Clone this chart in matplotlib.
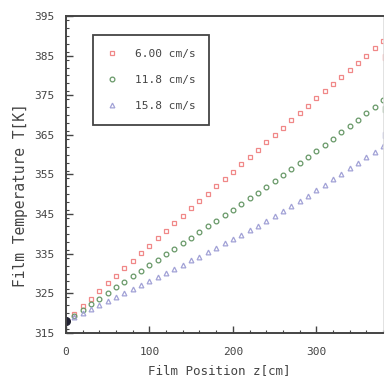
import matplotlib
matplotlib.use("Agg")
import matplotlib.pyplot as plt
from matplotlib.ticker import MultipleLocator

plt.rcParams['font.family'] = ['DejaVu Sans Mono', 'Noto Sans CJK JP']

z = [0, 10, 20, 30, 40, 50, 60, 70, 80, 90, 100, 110, 120, 130, 140, 150, 160, 170, 180, 190,
     200, 210, 220, 230, 240, 250, 260, 270, 280, 290, 300, 310, 320, 330, 340, 350, 360, 370, 380]

t_600 = [318.0, 319.9, 321.8, 323.7, 325.6, 327.5, 329.4, 331.3, 333.2, 335.1, 337.0, 338.9, 340.8,
         342.7, 344.6, 346.5, 348.3, 350.2, 352.0, 353.9, 355.7, 357.6, 359.4, 361.3, 363.1, 365.0,
         366.8, 368.7, 370.5, 372.3, 374.2, 376.0, 377.8, 379.6, 381.4, 383.2, 385.0, 386.8, 388.6]

t_118 = [318.0, 319.4, 320.9, 322.3, 323.7, 325.1, 326.5, 327.9, 329.3, 330.7, 332.1, 333.5, 334.9,
         336.3, 337.7, 339.1, 340.5, 341.9, 343.3, 344.7, 346.1, 347.5, 349.0, 350.4, 351.9, 353.4,
         354.9, 356.4, 357.9, 359.4, 360.9, 362.4, 364.0, 365.6, 367.2, 368.8, 370.4, 372.1, 373.8]

t_158 = [318.0, 319.0, 320.0, 321.0, 322.0, 323.0, 324.0, 325.0, 326.0, 327.0, 328.1, 329.1, 330.1,
         331.2, 332.2, 333.3, 334.3, 335.4, 336.5, 337.6, 338.7, 339.8, 340.9, 342.1, 343.3, 344.5,
         345.8, 347.1, 348.4, 349.7, 351.0, 352.4, 353.8, 355.2, 356.6, 358.0, 359.4, 360.8, 362.2]

labels = ['6.00 cm/s', '11.8 cm/s', '15.8 cm/s']
colors = ['#f08888', '#689868', '#a2a2d6']
markers = ['s', 'o', '^']

inlet_z = [0]
inlet_t = [318.0]

exit_z = [383, 383, 383]
exit_t = [384.6, 371.5, 365.0]

yticks = [315, 325, 335, 345, 355, 365, 375, 385, 395]

fig = plt.figure(figsize=(3.85, 3.78), dpi=100)
ax = fig.add_axes([66/385, 45/378, 317/385, 317/378])

series = [t_600, t_118, t_158]
for vals, lab, c, m in zip(series, labels, colors, markers):
    ax.plot(z, vals, linestyle='none', marker=m, markersize=3.4, markerfacecolor='none',
            markeredgecolor=c, markeredgewidth=0.9, label=lab)

for zz, tt, c in zip(exit_z, exit_t, colors):
    ax.plot([zz], [tt], linestyle='none', marker='s', markersize=4.0, color=c)

ax.plot(inlet_z, inlet_t, linestyle='none', marker='o', markersize=5.5, color='#222233')

ax.set_xlim(0, 380)
ax.set_ylim(315, 395)
ax.xaxis.set_major_locator(MultipleLocator(100))
ax.xaxis.set_minor_locator(MultipleLocator(20))
ax.set_yticks(yticks)
ax.yaxis.set_minor_locator(MultipleLocator(2))

ax.tick_params(axis='both', which='major', direction='in', length=5, width=1.0,
               labelsize=8, labelcolor='#444444', color='#444444')
ax.tick_params(axis='y', which='major', pad=8)
ax.tick_params(axis='x', which='major', pad=10)
ax.tick_params(axis='both', which='minor', direction='in', length=2.5, width=0.8, color='#444444')
for s in ax.spines.values():
    s.set_color('#444444')
    s.set_linewidth(1.4)
ax.spines['right'].set_linewidth(0.6)
ax.spines['right'].set_color('#dddddd')

ax.set_xlabel('Film Position z[cm]', fontsize=9, color='#444444')
ax.set_ylabel('Film Temperature T[K]', fontsize=10.5, color='#444444')
ax.xaxis.set_label_coords(0.483, -0.117)
ax.yaxis.set_label_coords(-0.145, 0.435)
ax.xaxis.label.set_va('center')
ax.yaxis.label.set_va('center')

leg = ax.legend(loc='upper left', bbox_to_anchor=(0.085, 0.94), fontsize=8,
                frameon=True, fancybox=False, edgecolor='#444444', labelspacing=1.45,
                borderpad=1.25, handletextpad=1.5, handlelength=1.0, borderaxespad=0,
                framealpha=1)
leg.get_frame().set_linewidth(1.3)
for txt in leg.get_texts():
    txt.set_color('#444444')

fig.savefig('out.png', dpi=100)
